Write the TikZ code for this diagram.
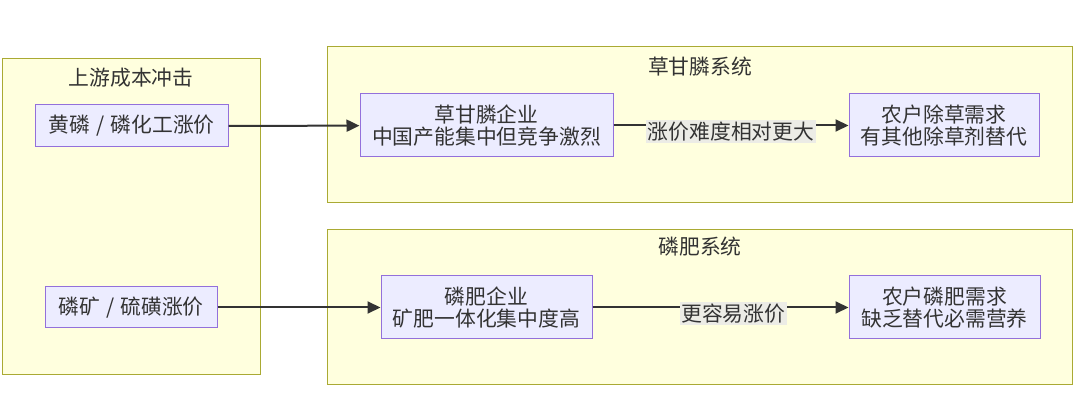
\documentclass[tikz,border=0pt]{standalone}
\usepackage{fontspec}
\newfontfamily\cjk{Noto Sans CJK SC}
\usetikzlibrary{arrows.meta}
\definecolor{clusterfill}{HTML}{FFFFDE}
\definecolor{clusterline}{HTML}{AAAA33}
\definecolor{boxfill}{HTML}{ECECFF}
\definecolor{boxline}{HTML}{9370DB}
\definecolor{textgray}{HTML}{333333}
\definecolor{labelfill}{HTML}{ECECE6}
\newcommand{\slashsep}{\hspace{0.3em}/\hspace{0.3em}}
\begin{document}
\begin{tikzpicture}[x=1pt, y=-1pt,
	every node/.style={font=\cjk\fontsize{20.8}{21.5}\selectfont, text=textgray, align=center, inner sep=0pt},
	cluster/.style={draw=clusterline, fill=clusterfill, line width=1pt},
	box/.style={draw=boxline, fill=boxfill, line width=1pt, minimum height=63pt},
	edge/.style={draw=textgray, line width=2pt, -{Triangle[length=13pt, width=12pt]}},
	elabel/.style={fill=labelfill, inner sep=1.5pt, yshift=-6pt}]
				\useasboundingbox (0,0) rectangle (1080,406);
				% clusters
				\draw[cluster] (2,59) rectangle (260,374);
				\draw[cluster] (327,47) rectangle (1072,203);
				\draw[cluster] (327,230) rectangle (1072,384);
				\node (upstream) at (131,78) {上游成本冲击};
				\node (glyphosate) at (700,67) {草甘膦系统};
				\node (phosphate) at (700,247) {磷肥系统};
				% nodes
				\node[box, minimum width=193pt, minimum height=42pt] (yellowp) at (131.5,126) {\raisebox{-4pt}{黄磷\slashsep 磷化工涨价}};
				\node[box, minimum width=172pt, minimum height=41pt] (rock) at (131,307.5) {\raisebox{-4pt}{磷矿\slashsep 硫磺涨价}};
				\node[box, minimum width=253pt] (glyfirm) at (486.5,125.5) {草甘膦企业\\中国产能集中但竞争激烈};
				\node[box, minimum width=190pt] (weed) at (944,125.5) {农户除草需求\\有其他除草剂替代};
				\node[box, minimum width=211pt] (fertfirm) at (486.5,307.5) {磷肥企业\\矿肥一体化集中度高};
				\node[box, minimum width=191pt] (fertneed) at (944.5,307.5) {农户磷肥需求\\缺乏替代必需营养};
				% edges
				\draw[edge] (yellowp) -- (glyfirm);
				\draw[edge] (rock) -- (fertfirm);
				\draw[edge] (glyfirm) -- node[elabel] {涨价难度相对更大} (weed);
				\draw[edge] (fertfirm) -- node[elabel, pos=0.55] {更容易涨价} (fertneed);
\end{tikzpicture}
\end{document}
